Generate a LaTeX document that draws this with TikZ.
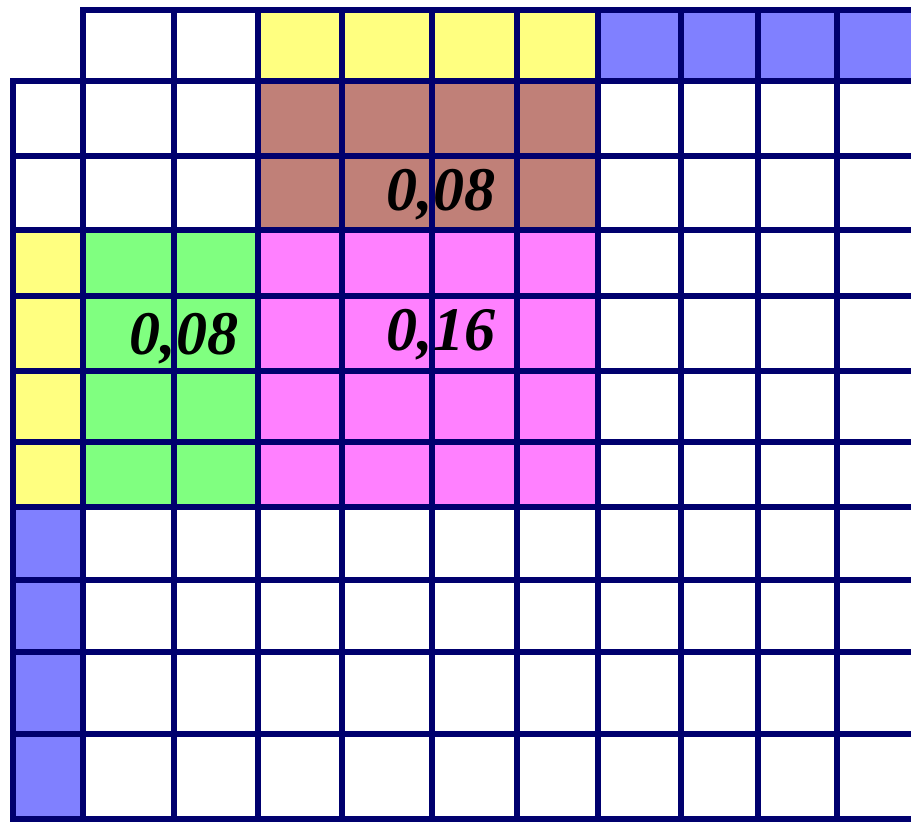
\documentclass[tikz,border=0pt]{standalone}
\usepackage{fontspec}
\setmainfont{Liberation Serif}
\definecolor{gridline}{RGB}{0,0,110}
\definecolor{cyellow}{RGB}{255,255,128}
\definecolor{cblue}{RGB}{128,128,255}
\definecolor{cbrown}{RGB}{192,128,120}
\definecolor{cgreen}{RGB}{128,255,128}
\definecolor{cmagenta}{RGB}{255,128,255}
\tikzset{
  gridln/.style={draw=gridline,line width=6pt,line cap=rect},
  lbl/.style={anchor=base,inner sep=0pt,font=\fontsize{62}{62}\selectfont\bfseries\itshape,text=black}
}
\begin{document}
\begin{tikzpicture}[x=1pt,y=-1pt]
\useasboundingbox (0,0) rectangle (911,822);
\clip (0,0) rectangle (911,822);
\fill[white] (0,0) rectangle (911,822);
% coloured cells
\fill[cyellow] (258,10) rectangle (598,81);
\fill[cblue] (598,10) rectangle (920,81);
\fill[cbrown] (258,81) rectangle (598,230);
\fill[cyellow] (13,230) rectangle (83,507);
\fill[cgreen] (83,230) rectangle (258,507);
\fill[cmagenta] (258,230) rectangle (598,507);
\fill[cblue] (13,507) rectangle (83,819);
% grid lines
\draw[gridln] (83,10) -- (920,10);
\foreach \y in {81,156,230,296,371,442,507,580,652,734,819}
  \draw[gridln] (13,\y) -- (920,\y);
\draw[gridln] (13,81) -- (13,819);
\foreach \x in {83,174,258,342,432,517,598,681,758,837}
  \draw[gridln] (\x,10) -- (\x,819);
% labels
\node[lbl] (brownlbl) at (441,210) {0,08};
\node[lbl] (greenlbl) at (184,354) {0,08};
\node[lbl] (magentalbl) at (441,350) {0,16};
\end{tikzpicture}
\end{document}
